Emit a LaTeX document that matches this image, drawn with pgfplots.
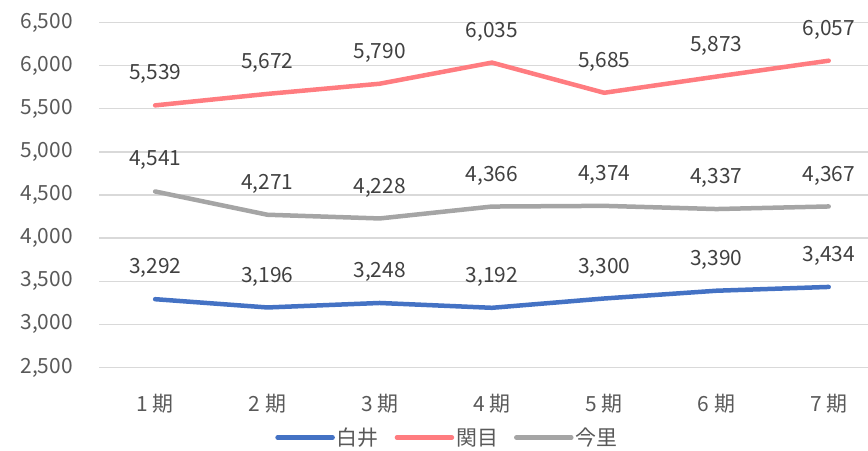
\documentclass[border=0pt]{standalone}
\usepackage{fontspec}
\setmainfont{Noto Sans CJK JP}
\usepackage{pgfplots}
\pgfplotsset{compat=1.18}
\definecolor{sBlue}{HTML}{4472C4}
\definecolor{sPink}{HTML}{FF7C80}
\definecolor{sGray}{HTML}{A5A5A5}
\definecolor{gridc}{HTML}{D9D9D9}
\definecolor{tickc}{HTML}{595959}
\definecolor{labc}{HTML}{404040}
\pgfkeys{/pgf/number format/.cd,1000 sep={,},assume math mode=true}

\begin{document}
\begin{tikzpicture}[x=1bp,y=1bp]
\path[use as bounding box] (0,0) rectangle (868,451);
\begin{axis}[
  at={(99bp,83.5bp)}, anchor=south west,
  scale only axis, width=769bp, height=345bp,
  xmin=0.5, xmax=7.35, ymin=2500, ymax=6500,
  ytick={2500,3000,...,6500},
  xtick={1,...,7},
  xticklabels={1 期,2 期,3 期,4 期,5 期,6 期,7 期},
  scaled y ticks=false,
  axis line style={draw=none},
  tick style={draw=none},
  ymajorgrids, grid style={gridc, line width=1.3bp},
  ticklabel style={font=\fontsize{21}{24}\selectfont, text=tickc},
  yticklabel style={anchor=east, inner sep=0pt, xshift=-26bp},
  xticklabel style={anchor=center, inner sep=0pt, yshift=-36bp},
  every axis plot/.append style={line width=4.5bp, line cap=round, line join=round},
  nodes near coords,
  every node near coord/.append style={anchor=center, yshift=31bp, font=\fontsize{21}{24}\selectfont, text=labc},
  legend columns=-1,
  legend image code/.code={\draw[#1] (0bp,0bp) -- (55bp,0bp);},
  legend style={draw=none, fill=none, at={(0.453,-0.203)}, anchor=center,
    font=\fontsize{21}{24}\selectfont, text=tickc,
    nodes={inner sep=2bp},
    /tikz/every even column/.append style={column sep=14bp}},
]
\addplot[sBlue] coordinates {(1,3292)(2,3196)(3,3248)(4,3192)(5,3300)(6,3390)(7,3434)};
\addlegendentry{白井}
\addplot[sPink] coordinates {(1,5539)(2,5672)(3,5790)(4,6035)(5,5685)(6,5873)(7,6057)};
\addlegendentry{関目}
\addplot[sGray] coordinates {(1,4541)(2,4271)(3,4228)(4,4366)(5,4374)(6,4337)(7,4367)};
\addlegendentry{今里}
\end{axis}
\end{tikzpicture}
\end{document}
